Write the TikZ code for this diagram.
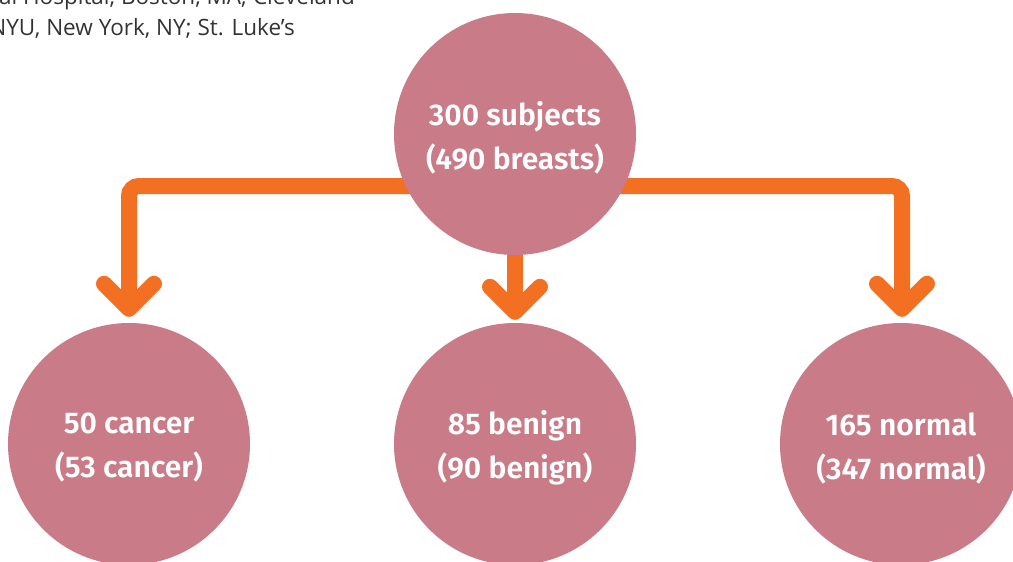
\documentclass[tikz,border=0pt]{standalone}
\usepackage{fontspec}
\setmainfont{Fira Sans}[BoldFont={Fira Sans SemiBold}]
\newfontfamily\notefont{Open Sans}
\usetikzlibrary{calc}
\pgfdeclarelayer{background}
\pgfsetlayers{background,main}
\definecolor{circ}{RGB}{201,123,136}
\definecolor{flow}{RGB}{243,112,35}
\definecolor{note}{RGB}{51,51,51}
\begin{document}
\begin{tikzpicture}[x=1pt,y=-1pt,
  group/.style={circle, fill=circ, minimum size=242pt, inner sep=0pt},
  grouptext/.style={text=white, align=center, inner sep=0pt, yshift=-4pt, font=\bfseries\fontsize{30}{44}\selectfont},
  conn/.style={draw=flow, line width=16pt, rounded corners=10pt},
  head/.style={draw=flow, line width=16pt, line cap=round, line join=round},
  notetext/.style={font=\notefont\fontsize{22.5}{30}\selectfont, text=note, inner sep=0pt}]
\useasboundingbox (0,0) rectangle (1013,562);
\clip (0,0) rectangle (1013,562);
\node[notetext, anchor=base east] (n1) at (355,5) {General Hospital, Boston, MA; Cleveland};
\node[notetext, anchor=base east] (n2) at (295,35) {NYU, New York, NY; St. Luke’s};
\node[group, label={[grouptext]center:300 subjects\\(490 breasts)}] (top) at (515,134) {};
\node[group, label={[grouptext]center:50 cancer\\(53 cancer)}] (c1) at (129,444) {};
\node[group, label={[grouptext]center:85 benign\\(90 benign)}] (c2) at (515,444) {};
\node[group, label={[grouptext]center:165 normal\\(347 normal)}] (c3) at (901,444) {};
\begin{pgfonlayer}{background}
\draw[conn] ($(top.center)+(0,52)$) -| ($(c1.north)+(0,-16)$);
\draw[conn] ($(top.center)+(0,52)$) -| ($(c3.north)+(1,-16)$);
\draw[conn] (top.south) -- ($(c2.north)+(0,-14)$);
\draw[head] ($(c1.north)+(-25,-39)$) -- ($(c1.north)+(0,-14)$) -- ($(c1.north)+(25,-39)$);
\draw[head] ($(c2.north)+(-25,-36)$) -- ($(c2.north)+(0,-11)$) -- ($(c2.north)+(25,-36)$);
\draw[head] ($(c3.north)+(-24,-39)$) -- ($(c3.north)+(1,-14)$) -- ($(c3.north)+(26,-39)$);
\end{pgfonlayer}
\end{tikzpicture}
\end{document}
